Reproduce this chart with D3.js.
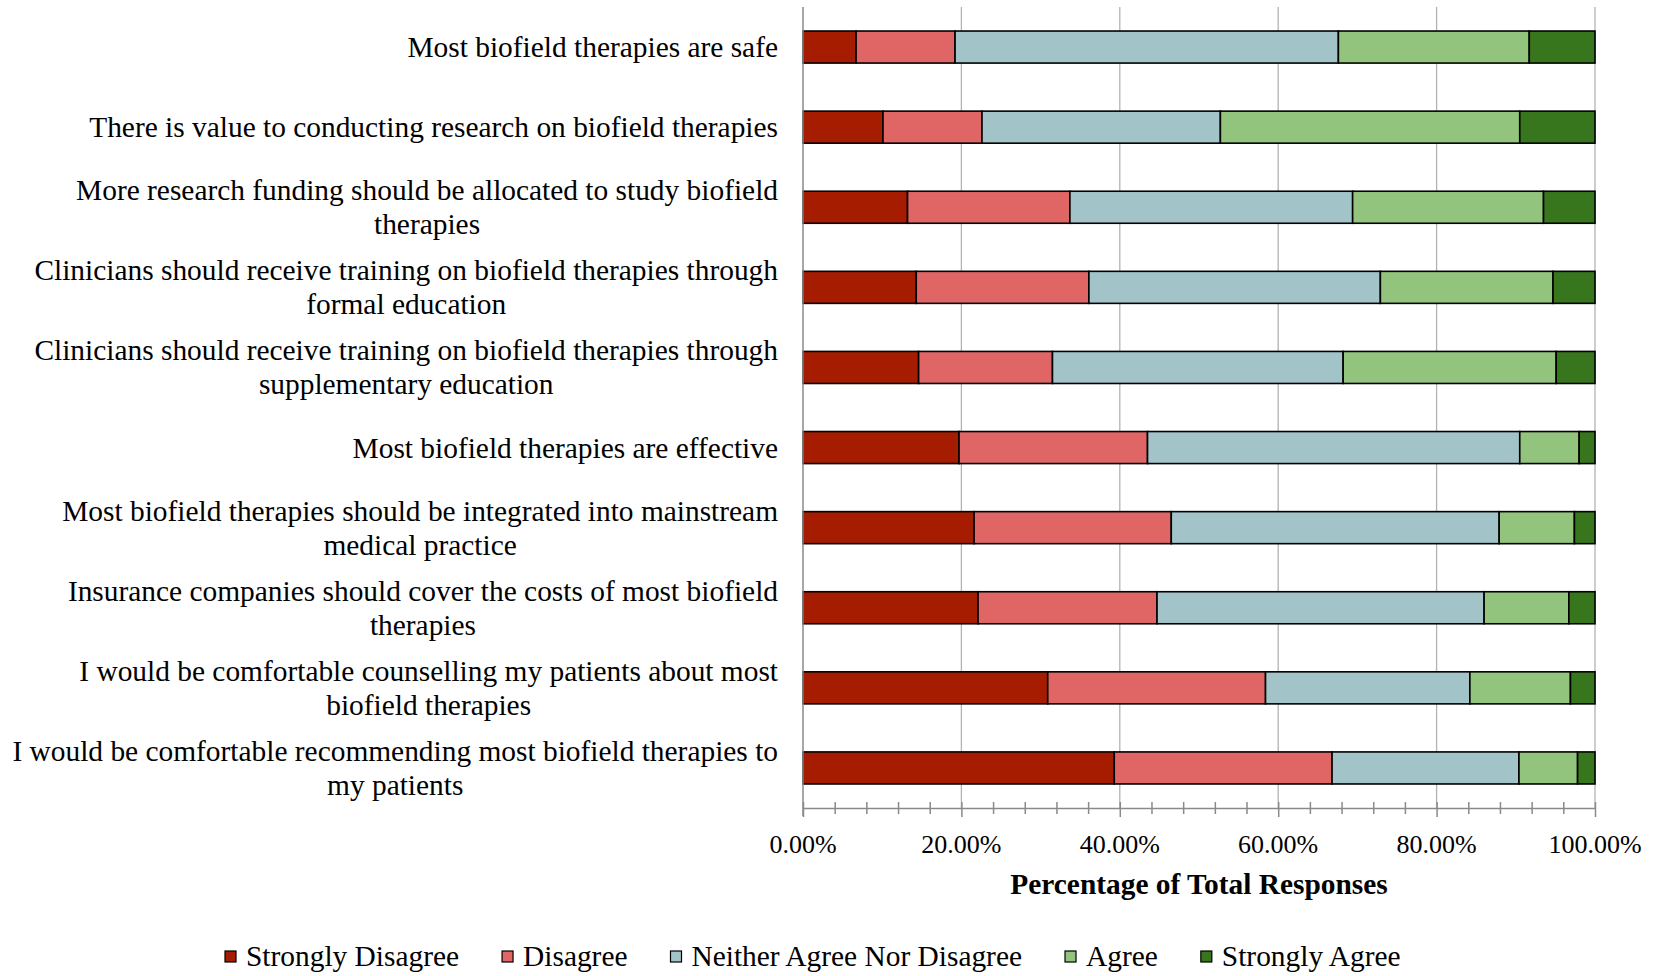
<!DOCTYPE html>
<html>
<head>
<meta charset="utf-8">
<script src="https://cdn.jsdelivr.net/npm/d3@7"></script>
<style>
  html, body { margin: 0; padding: 0; background: #fff; }
  svg { display: block; }
  text { font-family: "Liberation Serif", "Times New Roman", serif; fill: #000; }
</style>
</head>
<body>
<svg id="chart" width="1662" height="976"></svg>
<script>
// ---- data ----
const categories = [
  ["Most biofield therapies are safe"],
  ["There is value to conducting research on biofield therapies"],
  ["More research funding should be allocated to study biofield", "therapies"],
  ["Clinicians should receive training on biofield therapies through", "formal education"],
  ["Clinicians should receive training on biofield therapies through", "supplementary education"],
  ["Most biofield therapies are effective"],
  ["Most biofield therapies should be integrated into mainstream", "medical practice"],
  ["Insurance companies should cover the costs of most biofield", "therapies"],
  ["I would be comfortable counselling my patients about most", "biofield therapies"],
  ["I would be comfortable recommending most biofield therapies to", "my patients"]
];
const seriesNames = ["Strongly Disagree", "Disagree", "Neither Agree Nor Disagree", "Agree", "Strongly Agree"];
const stronglyDisagree = [6.7, 10.1, 13.2, 14.3, 14.6, 19.7, 21.6, 22.1, 30.9, 39.3];
const disagree         = [12.5, 12.5, 20.5, 21.8, 16.9, 23.8, 24.9, 22.6, 27.5, 27.5];
const neither          = [48.4, 30.1, 35.7, 36.8, 36.7, 47.0, 41.4, 41.3, 25.8, 23.6];
const agree            = [24.1, 37.8, 24.1, 21.8, 26.9, 7.5, 9.5, 10.7, 12.7, 7.4];
const stronglyAgree    = [8.3, 9.5, 6.5, 5.3, 4.9, 2.0, 2.6, 3.3, 3.1, 2.2];
const seriesColors = ["#a61c00", "#e06666", "#a2c4c9", "#93c47d", "#38761d"];
const xTicks = [0, 20, 40, 60, 80, 100];
const xTitle = "Percentage of Total Responses";

// ---- layout ----
const svg = d3.select("#chart");
const plot = { left: 803, right: 1595, top: 7, bottom: 808 };
const textSize = 29.4;

const x = d3.scaleLinear().domain([0, 100]).range([plot.left, plot.right]);
const y = d3.scaleBand().domain(d3.range(categories.length)).range([plot.top, plot.bottom]).paddingInner(0.6).paddingOuter(0.3);

const seriesValues = [stronglyDisagree, disagree, neither, agree, stronglyAgree];
const rows = categories.map((c, i) => {
  const o = { i };
  seriesNames.forEach((s, k) => o[s] = seriesValues[k][i]);
  return o;
});
const stacked = d3.stack().keys(seriesNames)(rows);

// gridlines
svg.append("g")
  .selectAll("line")
  .data(xTicks.filter(d => d > 0))
  .join("line")
  .attr("x1", d => x(d)).attr("x2", d => x(d))
  .attr("y1", plot.top).attr("y2", plot.bottom)
  .attr("stroke", "#b3b3b3").attr("stroke-width", 1.3);

// bars
svg.append("g")
  .selectAll("g")
  .data(stacked)
  .join("g")
  .attr("fill", (d, k) => seriesColors[k])
  .selectAll("rect")
  .data(d => d)
  .join("rect")
  .attr("x", d => x(d[0]))
  .attr("width", d => x(d[1]) - x(d[0]))
  .attr("y", d => y(d.data.i))
  .attr("height", y.bandwidth())
  .attr("stroke", "#000")
  .attr("stroke-width", 1.6);

// x axis
const axisColor = "#8a8a8a";
const xAxis = d3.axisBottom(x)
  .tickValues(d3.range(0, 101, 4))
  .tickSize(0)
  .tickFormat("");
const gx = svg.append("g").attr("transform", `translate(0,${plot.bottom})`).call(xAxis);
gx.select(".domain").attr("stroke", axisColor).attr("stroke-width", 1.5);
gx.selectAll(".tick line")
  .attr("y1", -6)
  .attr("y2", d => d % 20 === 0 ? 9 : 6)
  .attr("stroke", axisColor).attr("stroke-width", 1.5);
gx.selectAll(".tick text").remove();

svg.append("g").selectAll("text")
  .data(xTicks)
  .join("text")
  .attr("x", d => x(d))
  .attr("y", 853)
  .attr("text-anchor", "middle")
  .attr("font-size", 26)
  .text(d => d.toFixed(2) + "%");

// left axis line
svg.append("line")
  .attr("x1", plot.left).attr("x2", plot.left)
  .attr("y1", plot.top).attr("y2", plot.bottom + 8)
  .attr("stroke", axisColor).attr("stroke-width", 1.5);

// x title
svg.append("text")
  .attr("x", (plot.left + plot.right) / 2)
  .attr("y", 894)
  .attr("text-anchor", "middle")
  .attr("font-size", textSize)
  .attr("font-weight", "bold")
  .text(xTitle);

// category labels (block right aligned, lines centered)
const labelRight = 778;
const lineH = 34;
const gl = svg.append("g");
categories.forEach((lines, i) => {
  const cy = y(i) + y.bandwidth() / 2;
  const g = gl.append("g");
  const texts = lines.map((ln, j) =>
    g.append("text")
      .attr("font-size", textSize)
      .attr("text-anchor", "middle")
      .attr("y", cy + (j - (lines.length - 1) / 2) * lineH + 10)
      .text(ln)
  );
  const maxW = d3.max(texts, t => t.node().getComputedTextLength());
  texts.forEach(t => t.attr("x", labelRight - maxW / 2));
});

// legend
const lg = svg.append("g");
const legendY = 957;
let lx = 225;
seriesNames.forEach((s, k) => {
  lg.append("rect")
    .attr("x", lx).attr("y", legendY - 6)
    .attr("width", 11).attr("height", 11)
    .attr("fill", seriesColors[k])
    .attr("stroke", "#000").attr("stroke-width", 1.2);
  const t = lg.append("text")
    .attr("x", lx + 21).attr("y", legendY + 9)
    .attr("font-size", textSize)
    .text(s);
  lx += 21 + t.node().getComputedTextLength() + 43;
});
</script>
</body>
</html>
